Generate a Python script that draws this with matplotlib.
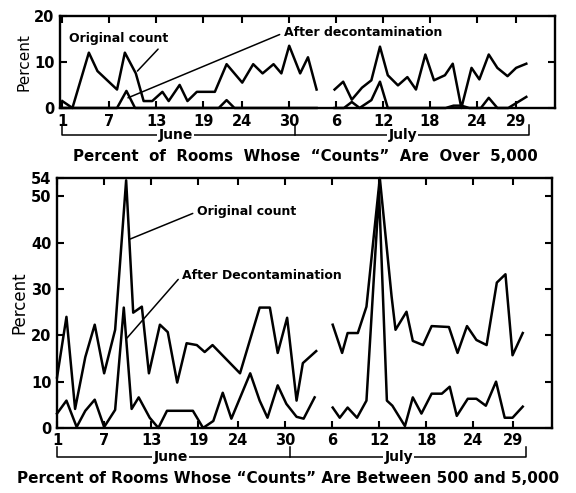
import matplotlib.pyplot as plt

# day index: 0 = June 1, 35 = July 6
tick_days = [0, 6, 12, 18, 23, 29, 35, 41, 47, 53, 58]
tick_labels = ['1', '7', '13', '19', '24', '30', '6', '12', '18', '24', '29']

# --- rooms with counts over 5,000 ---
over_orig_jun_x = [0, 1.3, 3.4, 4.5, 7, 8, 9.4, 10.4, 11.5, 12.8, 13.6, 15, 16, 17.2, 19.5,
                   21, 23, 24.4, 25.6, 27, 28, 29, 30.4, 31.4, 32.5]
over_orig_jun_y = [1.5, 0, 12, 8, 4, 12, 7.5, 1.5, 1.5, 3.5, 1.5, 5, 1.5, 3.5, 3.5,
                   9.5, 5.5, 9.5, 7.5, 9.5, 7.5, 13.5, 7.5, 11, 4]
over_orig_jul_x = [34.8, 35.9, 37, 38.3, 39.5, 40.6, 41.6, 42.9, 44.1, 45.2, 46.4, 47.5,
                   48.9, 49.9, 51, 52.3, 53.3, 54.5, 55.6, 56.9, 58, 59.3]
over_orig_jul_y = [4, 5.7, 1.8, 4.4, 6, 13.3, 7.1, 4.9, 6.7, 4, 11.6, 6,
                   7.1, 9.6, 0, 8.7, 6.2, 11.6, 8.7, 6.9, 8.7, 9.6]
over_dec_jun_x = [0, 7, 8.2, 9.3, 20, 21, 22, 32.5]
over_dec_jun_y = [0, 0, 3.7, 0, 0, 1.7, 0, 0]
over_dec_jul_x = [34.8, 36, 37, 38, 39.5, 40.6, 41.6, 49, 50, 51, 52, 53.5, 54.5, 55.6, 57, 59.3]
over_dec_jul_y = [0, 0, 1.3, 0, 1.7, 5.7, 0, 0, 0.5, 0.5, 0, 0, 2.2, 0, 0, 2.4]

# --- rooms with counts between 500 and 5,000 ---
btw_orig_jun_x = [0, 1.2, 2.3, 3.6, 4.8, 6, 7.4, 8.8, 9.7, 10.8, 11.7, 13.1, 14.1, 15.3,
                  16.5, 17.8, 18.8, 19.8, 23.3, 25.8, 27.1, 28.1, 29.3, 30.5, 31.3, 33]
btw_orig_jun_y = [10.9, 24, 4.1, 15.3, 22.3, 11.8, 21.2, 53.5, 24.9, 26.2, 11.8, 22.3, 20.7, 9.8,
                  18.3, 17.9, 16.4, 17.9, 11.8, 26, 26, 16.2, 23.8, 5.9, 14, 16.6]
btw_orig_jul_x = [35.1, 36.3, 37, 38.3, 39.4, 41.1, 42.6, 43.1, 44.5, 45.3, 46.6, 47.7,
                  49.9, 51, 52.2, 53.4, 54.7, 56, 57.1, 58, 59.3]
btw_orig_jul_y = [22.3, 16.2, 20.5, 20.5, 26.2, 54, 28.4, 21.2, 25.1, 18.8, 17.9, 22,
                  21.8, 16.2, 22, 19, 17.9, 31.4, 33.2, 15.7, 20.5]
btw_dec_jun_x = [0, 1.2, 2.5, 3.6, 4.8, 6, 7.4, 8.5, 9.5, 10.4, 11.8, 12.9, 14, 17.3, 18.6,
                 19.9, 21.1, 22.2, 24.6, 25.8, 26.8, 28.1, 29.2, 30.5, 31.4, 32.8]
btw_dec_jun_y = [3.1, 5.9, 0.2, 3.7, 6.1, 0.2, 3.9, 26, 4.1, 6.6, 2.2, 0, 3.7, 3.7, 0,
                 1.5, 7.6, 2, 11.8, 5.9, 2.2, 9.2, 5.2, 2.4, 2, 6.6]
btw_dec_jul_x = [35.1, 36, 37, 38.2, 39.4, 41, 42, 42.7, 44.3, 45.3, 46.4, 47.7, 49, 50,
                 50.9, 52.3, 53.4, 54.6, 55.9, 57, 58, 59.3]
btw_dec_jul_y = [4.4, 2.2, 4.4, 2.2, 5.9, 51, 5.9, 4.8, 0.4, 6.6, 3.1, 7.4, 7.4, 8.9,
                 2.6, 6.3, 6.3, 4.8, 10, 2.2, 2.2, 4.6]

plt.rcParams['font.family'] = 'DejaVu Sans'
plt.rcParams['font.weight'] = 'bold'

fig = plt.figure(figsize=(5.76, 4.93), dpi=100)
ax1 = fig.add_axes([0.104, 0.781, 0.860, 0.187])
ax2 = fig.add_axes([0.099, 0.132, 0.859, 0.507])

lw = 1.8
for x, y in [(over_orig_jun_x, over_orig_jun_y), (over_orig_jul_x, over_orig_jul_y),
             (over_dec_jun_x, over_dec_jun_y), (over_dec_jul_x, over_dec_jul_y)]:
    ax1.plot(x, y, color='black', lw=lw, clip_on=False)
for x, y in [(btw_orig_jun_x, btw_orig_jun_y), (btw_orig_jul_x, btw_orig_jul_y),
             (btw_dec_jun_x, btw_dec_jun_y), (btw_dec_jul_x, btw_dec_jul_y)]:
    ax2.plot(x, y, color='black', lw=lw, clip_on=False)

ax1.set_ylim(0, 20)
ax1.set_yticks([0, 10, 20])
ax2.set_ylim(0, 54)
ax2.set_yticks([0, 10, 20, 30, 40, 50, 54])
ax1.set_xlim(-0.3, 63)
ax2.set_xlim(0, 63)

for ax, lo, hi in [(ax1, -0.29, -0.185), (ax2, -0.116, -0.076)]:
    ax.set_xticks(tick_days)
    ax.set_xticklabels(tick_labels)
    ax.tick_params(direction='in', length=5, width=1.5, top=True, right=True,
                   labelsize=10.5, pad=4)
    for s in ax.spines.values():
        s.set_linewidth(1.7)
    tr = ax.get_xaxis_transform()
    ax.plot([0, 0, 59.7, 59.7], [hi, lo, lo, hi], color='black', lw=1.1,
            transform=tr, clip_on=False)
    ax.plot([29.7, 29.7], [lo, hi], color='black', lw=1.1, transform=tr, clip_on=False)
    for name, xd in [('June', 14.5), ('July', 43.5)]:
        ax.text(xd, lo, name, transform=tr, ha='center', va='center', fontsize=10,
                bbox=dict(facecolor='white', edgecolor='none', pad=1))

ax1.set_ylabel('Percent', fontsize=11, labelpad=2)
ax2.set_ylabel('Percent', fontsize=12, labelpad=2)

arrow = dict(arrowstyle='-', color='black', lw=1.1, shrinkA=1, shrinkB=0)
ax1.annotate('Original count', xy=(9.6, 8), xytext=(0.8, 15), fontsize=9, va='center',
             arrowprops=dict(arrow, relpos=(1, 0.5)))
ax1.annotate('After decontamination', xy=(8.4, 2.2), xytext=(28.3, 16.3), fontsize=9,
             va='center', arrowprops=dict(arrow, relpos=(0, 0.5)))
ax2.annotate('Original count', xy=(9.3, 40.8), xytext=(17.8, 46.7), fontsize=9,
             va='center', arrowprops=dict(arrow, relpos=(0, 0.5)))
ax2.annotate('After Decontamination', xy=(8.9, 19.4), xytext=(15.9, 33), fontsize=9,
             va='center', arrowprops=dict(arrow, relpos=(0, 0.5)))

fig.text(0.53, 0.682, 'Percent  of  Rooms  Whose  \u201cCounts\u201d  Are  Over  5,000',
         ha='center', va='center', fontsize=10.8)
fig.text(0.5, 0.030, 'Percent of Rooms Whose \u201cCounts\u201d Are Between 500 and 5,000',
         ha='center', va='center', fontsize=11)

fig.savefig('out.png', dpi=100)
